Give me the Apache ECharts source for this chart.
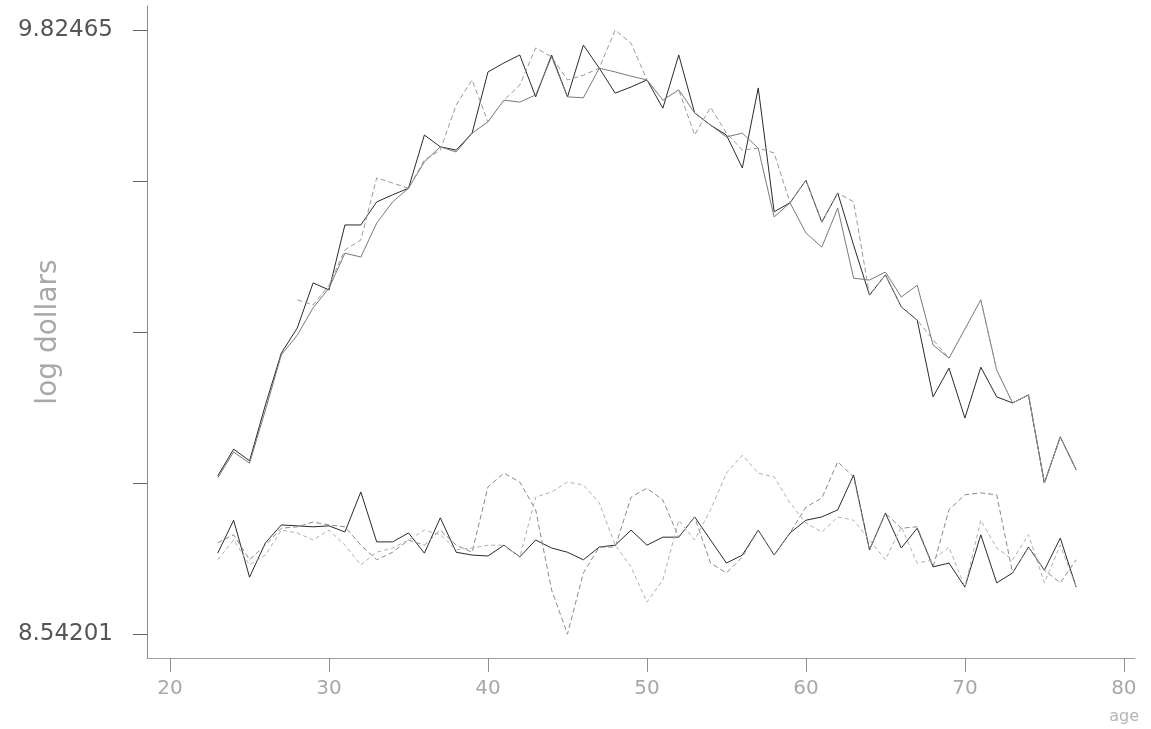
<!DOCTYPE html>
<html>
<head>
<meta charset="utf-8">
<script src="https://cdn.jsdelivr.net/npm/echarts@6/dist/echarts.min.js"></script>
<style>html,body{margin:0;padding:0;background:#fff}#c{width:1151px;height:729px}</style>
</head>
<body>
<div id="c"></div>
<script>
var ages = [23,24,25,26,27,28,29,30,31,32,33,34,35,36,37,38,39,40,41,42,43,44,45,46,47,48,49,50,51,52,53,54,55,56,57,58,59,60,61,62,63,64,65,66,67,68,69,70,71,72,73,74,75,76,77];

var upper1 = [8.878,8.935,8.910,9.029,9.139,9.192,9.288,9.273,9.411,9.411,9.460,9.475,9.489,9.602,9.577,9.570,9.606,9.736,9.755,9.772,9.683,9.772,9.683,9.793,9.744,9.691,9.704,9.719,9.659,9.772,9.649,9.623,9.602,9.532,9.702,9.439,9.458,9.506,9.417,9.479,9.368,9.262,9.305,9.237,9.209,9.046,9.107,9.001,9.109,9.046,9.033,9.050,8.863,8.961,8.891];
var upper2 = [8.874,8.929,8.905,9.018,9.135,9.177,9.235,9.277,9.351,9.343,9.415,9.460,9.489,9.545,9.577,9.566,9.606,9.630,9.676,9.672,9.687,9.768,9.683,9.681,9.744,9.736,9.727,9.719,9.676,9.698,9.649,9.623,9.598,9.606,9.574,9.428,9.458,9.394,9.364,9.447,9.298,9.294,9.311,9.258,9.283,9.156,9.128,9.190,9.252,9.103,9.033,9.050,8.863,8.961,8.891];
var upper3 = [null,null,null,null,null,9.252,9.241,9.283,9.358,9.379,9.511,9.500,9.489,9.549,9.570,9.666,9.719,9.630,9.676,9.708,9.787,9.768,9.719,9.729,9.744,9.825,9.797,9.719,9.676,9.698,9.602,9.661,9.606,9.570,9.574,9.564,9.458,9.506,9.417,9.479,9.460,9.262,9.305,9.237,9.209,9.167,9.128,9.190,9.252,9.103,9.033,9.050,8.863,8.961,8.891];
var lower1 = [8.714,8.784,8.663,8.736,8.774,8.772,8.770,8.772,8.759,8.844,8.738,8.738,8.757,8.714,8.789,8.716,8.710,8.708,8.731,8.706,8.742,8.725,8.716,8.700,8.727,8.731,8.763,8.731,8.748,8.748,8.791,8.742,8.693,8.710,8.763,8.710,8.757,8.784,8.791,8.806,8.880,8.721,8.799,8.725,8.767,8.685,8.693,8.642,8.753,8.651,8.672,8.727,8.678,8.746,8.642];
var lower2 = [8.736,8.753,8.700,8.731,8.767,8.770,8.780,8.774,8.770,8.731,8.700,8.716,8.742,8.731,8.763,8.731,8.716,8.855,8.884,8.865,8.806,8.636,8.542,8.672,8.727,8.727,8.833,8.852,8.827,8.748,8.791,8.693,8.672,8.706,8.763,8.710,8.757,8.812,8.831,8.908,8.876,8.721,8.799,8.767,8.770,8.685,8.806,8.838,8.842,8.838,8.672,8.727,8.678,8.651,8.700];
var lower3 = [8.700,8.742,8.689,8.710,8.763,8.757,8.742,8.763,8.731,8.689,8.716,8.725,8.742,8.763,8.753,8.721,8.725,8.731,8.731,8.706,8.833,8.844,8.865,8.859,8.821,8.731,8.685,8.610,8.657,8.784,8.742,8.806,8.884,8.922,8.884,8.876,8.821,8.778,8.759,8.791,8.784,8.742,8.700,8.770,8.693,8.700,8.727,8.642,8.784,8.725,8.700,8.753,8.651,8.731,8.642];

var xTicks = [20,30,40,50,60,70,80];
var yTicks = [8.54201,8.86267,9.18333,9.50399,9.82465];
var yLabels = [8.54201,9.82465];

function pairs(vals){ return ages.map(function(a,i){ return [a, vals[i]]; }); }

var styles = [
  {d: upper1, c:'#2a2a2a', t:'solid'},
  {d: upper2, c:'#7a7a7a', t:'solid'},
  {d: upper3, c:'#9a9a9a', t:[5,3]},
  {d: lower1, c:'#2a2a2a', t:'solid'},
  {d: lower2, c:'#8a8a8a', t:[5,3]},
  {d: lower3, c:'#b0b0b0', t:[4,3]}
];

var chart = echarts.init(document.getElementById('c'), null, {renderer:'canvas'});
chart.setOption({
  animation: false,
  backgroundColor: '#fff',
  grid: {left:147, right:16, top:6, bottom:71, containLabel:false, outerBoundsMode:'none'},
  xAxis: {
    type:'value', min:18.55, max:80.7,
    name:'age', nameLocation:'end', nameGap:4, nameMoveOverlap:false,
    nameTextStyle:{color:'#b5b5b5', fontSize:16, fontFamily:'DejaVu Sans', align:'right', verticalAlign:'top', padding:[51,0,0,0]},
    axisLine:{show:true, lineStyle:{color:'#a0a0a0', width:1}},
    axisTick:{show:true, length:14, lineStyle:{color:'#909090'}, customValues:xTicks},
    axisLabel:{color:'#a8a8a8', fontSize:20, fontFamily:'DejaVu Sans', margin:21, customValues:xTicks},
    splitLine:{show:false}
  },
  yAxis: {
    type:'value', min:8.4914, max:9.8760,
    name:'log dollars', nameLocation:'middle', nameGap:98, nameRotate:90, nameMoveOverlap:false,
    nameTextStyle:{color:'#a8a8a8', fontSize:28, fontFamily:'DejaVu Sans', verticalAlign:'middle'},
    axisLine:{show:true, lineStyle:{color:'#8a8a8a', width:1}},
    axisTick:{show:true, length:14, lineStyle:{color:'#666'}, customValues:yTicks},
    axisLabel:{color:'#555', fontSize:23, fontFamily:'DejaVu Sans', margin:34, customValues:yLabels,
      formatter:function(v){ return v.toFixed(5); }},
    splitLine:{show:false}
  },
  series: styles.map(function(s){
    return {
      type:'line', data:pairs(s.d), showSymbol:false, connectNulls:false,
      lineStyle:{color:s.c, width:1, type:s.t}, itemStyle:{color:s.c},
      emphasis:{disabled:true}
    };
  })
});
</script>
</body>
</html>
